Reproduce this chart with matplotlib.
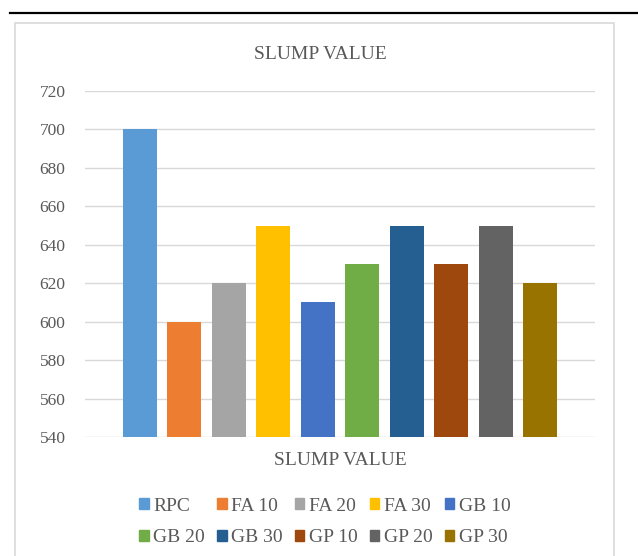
import matplotlib.pyplot as plt
import numpy as np
from matplotlib.patches import Rectangle, Patch
from matplotlib.lines import Line2D

plt.rcParams['font.family'] = ['Liberation Serif', 'DejaVu Serif']

# slump values for each mix
mixes = ['RPC', 'FA 10', 'FA 20', 'FA 30', 'GB 10', 'GB 20', 'GB 30', 'GP 10', 'GP 20', 'GP 30']
slump = [700, 600, 620, 650, 610, 630, 650, 630, 650, 620]
colors = ['#5B9BD5', '#ED7D31', '#A5A5A5', '#FFC000', '#4472C4',
          '#70AD47', '#255E91', '#9E480E', '#636363', '#997300']
yticks = [540, 560, 580, 600, 620, 640, 660, 680, 700, 720]

txt = '#595959'
W, H = 638, 556
fig = plt.figure(figsize=(W / 100, H / 100), dpi=100)

# black rule across the top and grey chart frame
fig.add_artist(Line2D([10 / W, 1], [1 - 13 / H, 1 - 13 / H], color='black', lw=1.6))
fig.add_artist(Rectangle((15 / W, -0.02), (614 - 15) / W, 1 - 23 / H + 0.02,
                         fill=False, edgecolor='#D9D9D9', lw=1.2))

ax = fig.add_axes([85 / W, 1 - 437 / H, (595 - 85) / W, (437 - 91) / H])
x = np.arange(len(mixes))
ax.bar(x, [v - 540 for v in slump], bottom=540, width=0.76, color=colors, zorder=3)
ax.set_xlim(-1.23, 10.23)
ax.set_ylim(540, 720)
ax.set_yticks(yticks)
ax.set_xticks([])
ax.grid(axis='y', color='#D9D9D9', lw=1, zorder=0)
for s in ax.spines.values():
    s.set_visible(False)
ax.tick_params(axis='y', length=0, labelsize=12.5, labelcolor=txt, pad=14)
ax.set_xlabel('SLUMP VALUE', fontsize=14, color=txt, labelpad=11)

fig.text(320 / W, 1 - 54 / H, 'SLUMP VALUE', ha='center', va='center', fontsize=14, color=txt)

# legend filled row by row, 5 per row
handles = [Patch(color=c) for c in colors]
order = [0, 5, 1, 6, 2, 7, 3, 8, 4, 9]
leg = fig.legend([handles[i] for i in order], [mixes[i] for i in order],
                 loc='center', bbox_to_anchor=(325 / W, 1 - 522 / H), ncol=5,
                 frameon=False, fontsize=14, handlelength=0.5, handleheight=0.5,
                 handletextpad=0.25, columnspacing=0.6, labelspacing=0.75)
for t in leg.get_texts():
    t.set_color(txt)

fig.savefig('out.png', dpi=100)
